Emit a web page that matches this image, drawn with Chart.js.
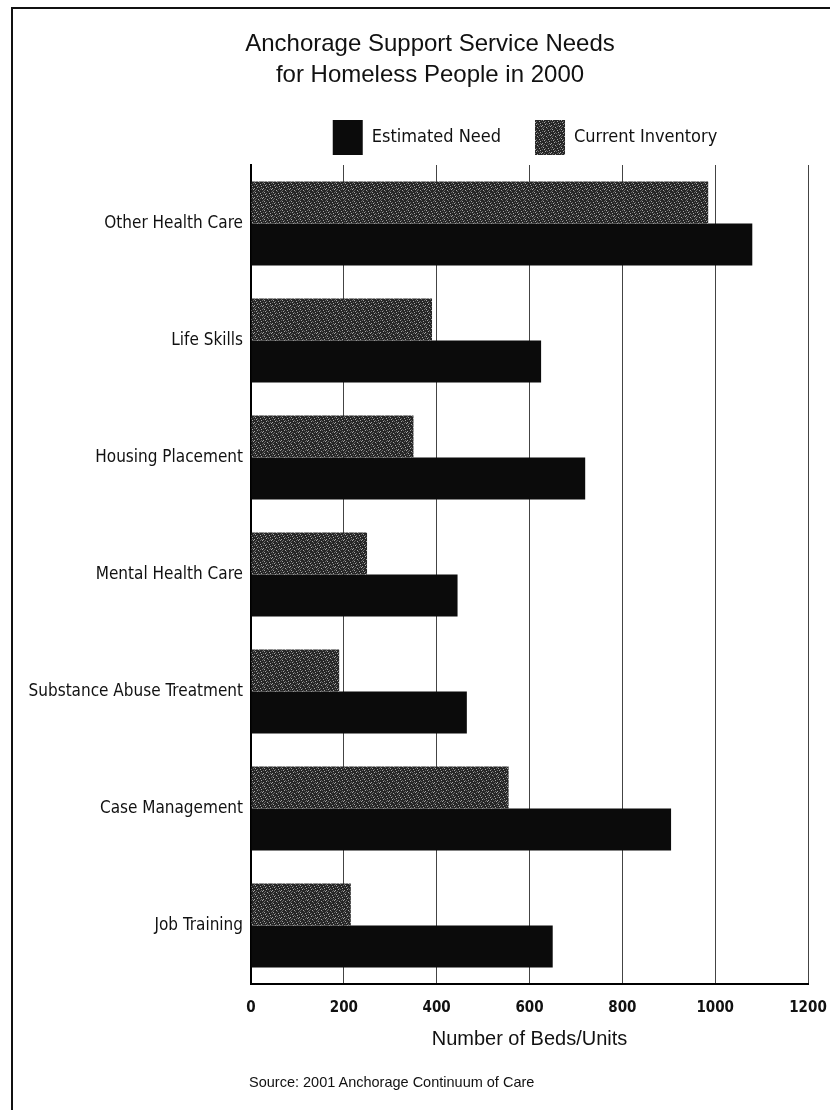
<!DOCTYPE html>
<html><head><meta charset="utf-8">
<script src="https://cdn.jsdelivr.net/npm/chart.js@4/dist/chart.umd.min.js"></script>
<style>
html,body{margin:0;padding:0;background:#fff;}
#wrap{position:relative;width:830px;height:1110px;overflow:hidden;background:#fff;}
#frame{position:absolute;left:11px;top:7px;width:900px;height:1200px;border-left:2px solid #111;border-top:2px solid #111;}
#title{position:absolute;left:0;width:860px;top:27px;text-align:center;font-family:'Liberation Sans',Arial,sans-serif;font-size:24px;line-height:31px;color:#111;z-index:2;}
#source{position:absolute;left:249px;top:1074px;font-family:'Liberation Sans',Arial,sans-serif;font-size:14.5px;color:#111;z-index:2;}
canvas{position:absolute;left:0;top:0;z-index:1;}
</style></head>
<body><div id="wrap">
<div id="frame"></div>
<div id="title">Anchorage Support Service Needs<br>for Homeless People in 2000</div>
<canvas id="c" width="830" height="1110"></canvas>
<div id="source">Source: 2001 Anchorage Continuum of Care</div>
</div>
<script>
const categories = ['Other Health Care','Life Skills','Housing Placement','Mental Health Care','Substance Abuse Treatment','Case Management','Job Training'];
const estimatedNeed = [1080, 625, 720, 445, 465, 905, 650];
const currentInventory = [985, 390, 350, 250, 190, 555, 215];
const xTicks = [0, 200, 400, 600, 800, 1000, 1200];

const narrow = "'Liberation Sans Narrow','DejaVu Sans Condensed','Roboto Condensed','Liberation Sans',Arial,sans-serif";

function speckle(){
  const c = document.createElement('canvas'); c.width = 9; c.height = 9;
  const g = c.getContext('2d');
  g.fillStyle = '#262626'; g.fillRect(0,0,9,9);
  g.fillStyle = '#a8a8a8';
  [[1,0],[6,1],[3,3],[8,4],[0,6],[5,7],[2,8],[4,5]].forEach(p=>g.fillRect(p[0],p[1],1,1));
  g.fillStyle = '#666';
  [[4,0],[7,2],[1,3],[5,4],[2,5],[7,7],[3,1],[0,8],[6,6],[8,0],[2,2]].forEach(p=>g.fillRect(p[0],p[1],1,1));
  return g.createPattern(c,'repeat');
}
const pat = speckle();

const shiftLegend = {
  id: 'shiftLegend',
  afterLayout(chart){
    const l = chart.legend;
    if (!l) return;
    const dx = 525 - (l.left + l.right) / 2;
    l.left += dx; l.right += dx;
  }
};

new Chart(document.getElementById('c'), {
  type: 'bar',
  data: {
    labels: categories,
    datasets: [
      {label: 'Current Inventory', data: currentInventory, backgroundColor: pat, borderWidth: 0},
      {label: 'Estimated Need', data: estimatedNeed, backgroundColor: '#0b0b0b', borderWidth: 0}
    ]
  },
  plugins: [shiftLegend],
  options: {
    indexAxis: 'y',
    responsive: false,
    animation: false,
    devicePixelRatio: 1,
    barPercentage: 1.0,
    categoryPercentage: 0.72,
    layout: {padding: {left: 12, right: 22, top: 86, bottom: 59}},
    plugins: {
      tooltip: {enabled: false},
      title: {display: false},
      legend: {
        position: 'top',
        reverse: true,
        labels: {boxWidth: 30, boxHeight: 35, padding: 34, color: '#111',
                 font: {family: narrow, size: 18}}
      }
    },
    scales: {
      x: {
        min: 0, max: 1200,
        afterBuildTicks: s => { s.ticks = xTicks.map(v => ({value: v})); },
        afterFit: s => { s.paddingRight = 0; s.paddingLeft = 0; },
        grid: {color: '#444', lineWidth: 1, drawTicks: false},
        border: {color: '#000', width: 2},
        ticks: {color: '#111', padding: 15, callback: v => String(v),
                font: {family: narrow, size: 15, weight: 'bold'}},
        title: {display: true, text: 'Number of Beds/Units', color: '#111',
                font: {family: "'Liberation Sans',Arial,sans-serif", size: 20}, padding: {top: -5, bottom: 0}}
      },
      y: {
        afterFit: s => { s.width = 239; },
        grid: {display: false, drawTicks: false},
        border: {color: '#000', width: 2},
        ticks: {color: '#111', padding: 8, font: {family: narrow, size: 17}}
      }
    }
  }
});
</script>
</body></html>
